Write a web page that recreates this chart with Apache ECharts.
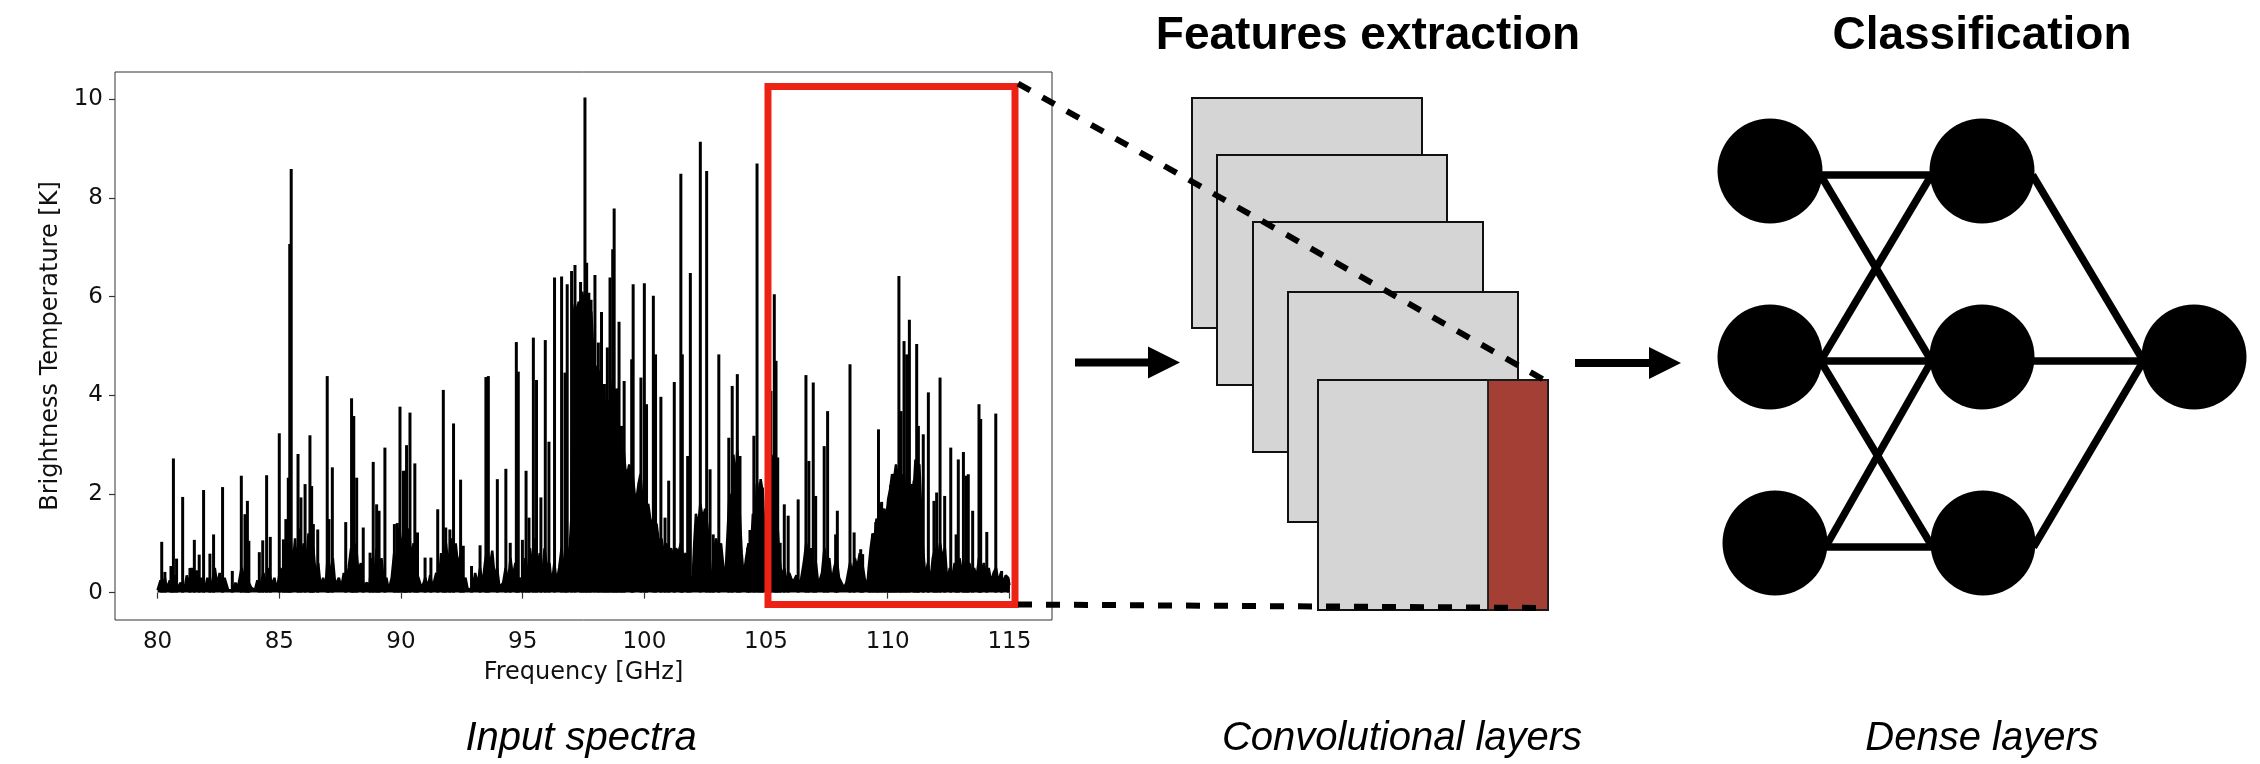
<!DOCTYPE html>
<html>
<head>
<meta charset="utf-8">
<script src="https://cdn.jsdelivr.net/npm/echarts@6/dist/echarts.min.js"></script>
<style>
  html, body { margin: 0; padding: 0; background: #fff; }
  #chart { width: 2260px; height: 764px; }
</style>
</head>
<body>
<div id="chart"></div>
<script>
// ---- Spectrum: individual emission lines (GHz, K) ----
const peakFreq = [
  80.17, 80.30, 80.55, 80.65, 80.78, 81.03, 81.33, 81.51, 81.71, 81.89,
  82.15, 82.30, 82.67, 83.07, 83.44, 83.59, 83.69, 83.75, 84.18, 84.32,
  84.48, 84.63, 85.00, 85.17, 85.27, 85.37, 85.43, 85.49, 85.77, 85.89,
  86.06, 86.26, 86.33, 86.40, 86.58, 86.97, 87.04, 87.18, 87.73, 87.97,
  88.06, 88.18, 88.45, 88.73, 88.86, 89.00, 89.10, 89.34, 89.73, 89.85,
  89.96, 90.10, 90.17, 90.23, 90.37, 90.57, 90.68, 90.99, 91.23, 91.51,
  91.74, 91.84, 92.01, 92.16, 92.45, 92.56, 92.90, 93.25, 93.49, 93.59,
  93.96, 94.31, 94.49, 94.74, 94.82, 94.99, 95.14, 95.26, 95.44, 95.57,
  95.75, 95.93, 96.08, 96.31, 96.60, 96.74, 96.83, 97.01, 97.15, 97.38,
  97.46, 97.56, 97.63, 97.72, 97.81, 97.97, 98.11, 98.24, 98.36, 98.48,
  98.59, 98.70, 98.76, 98.86, 98.96, 99.06, 99.17, 99.48, 99.54, 99.86,
  100.00, 100.09, 100.37, 100.46, 100.68, 100.85, 101.00, 101.23, 101.50, 101.56,
  101.78, 101.89, 102.30, 102.56, 102.70, 102.83, 103.06, 103.47, 103.61, 103.82,
  103.93, 104.24, 104.34, 104.50, 104.63, 104.75, 104.85, 105.20, 105.34, 105.41,
  105.48, 105.58, 105.75, 105.91, 106.32, 106.64, 106.76, 106.94, 107.04, 107.39,
  107.53, 107.86, 107.93, 108.45, 108.62, 108.89, 108.97, 109.25, 109.38, 109.51,
  109.62, 109.75, 109.89, 110.03, 110.12, 110.23, 110.34, 110.46, 110.55, 110.67,
  110.78, 110.89, 111.08, 111.19, 111.26, 111.46, 111.67, 111.90, 112.01, 112.15,
  112.34, 112.59, 112.81, 112.90, 113.11, 113.22, 113.31, 113.49, 113.75, 113.82,
  114.07, 114.44, 114.68, 114.96
];
const peakTemp = [
  1.03, 0.42, 0.54, 2.72, 0.69, 1.94, 0.50, 1.07, 0.77, 2.08,
  0.79, 1.18, 2.14, 0.44, 2.37, 1.59, 1.86, 1.05, 0.82, 1.06,
  2.38, 1.13, 3.23, 1.08, 1.49, 2.33, 7.07, 8.59, 2.81, 1.93,
  2.20, 3.19, 2.16, 1.39, 1.28, 4.39, 1.49, 2.54, 1.43, 3.94,
  3.58, 2.33, 1.32, 0.81, 2.65, 1.79, 1.66, 2.94, 1.39, 1.41,
  3.77, 2.47, 2.47, 2.99, 3.65, 2.62, 1.22, 0.71, 0.71, 1.69,
  4.11, 1.32, 1.28, 3.43, 2.29, 0.95, 0.54, 0.96, 4.37, 4.39,
  2.30, 2.51, 1.01, 5.08, 4.48, 1.07, 2.47, 1.52, 5.17, 4.31,
  1.93, 5.12, 3.06, 6.39, 6.41, 4.46, 6.25, 6.52, 6.64, 6.30,
  6.04, 10.04, 6.69, 6.08, 5.94, 6.44, 5.07, 5.69, 4.23, 4.97,
  6.39, 6.96, 7.79, 4.14, 5.49, 3.38, 4.29, 4.73, 6.25, 4.36,
  6.27, 3.82, 6.02, 4.83, 3.97, 1.52, 2.27, 4.27, 8.49, 4.83,
  2.77, 6.48, 9.14, 8.55, 2.50, 1.18, 4.83, 3.14, 4.19, 4.43,
  2.77, 0.91, 1.27, 3.18, 8.70, 2.23, 2.13, 4.09, 6.05, 4.70,
  2.74, 1.01, 1.79, 1.56, 1.89, 4.41, 2.67, 4.26, 1.96, 2.97,
  3.68, 1.18, 1.66, 4.63, 1.22, 0.88, 0.78, 0.47, 1.18, 1.43,
  3.31, 1.84, 1.64, 1.66, 2.18, 2.27, 2.40, 6.42, 3.68, 5.10,
  4.83, 5.53, 2.27, 5.04, 3.38, 3.21, 4.06, 1.86, 2.03, 4.36,
  1.96, 2.94, 1.18, 2.70, 2.85, 2.37, 2.40, 1.66, 3.82, 3.52,
  1.23, 3.63, 0.44, 0.27
];

// ---- Spectrum: crowded weak-line forest, [GHz, K] along its ragged upper edge ----
const forest = [
  [80.00, 0.05], [80.12, 0.25], [80.20, 0.05], [80.30, 0.30], [80.38, 0.08], [80.50, 0.25], [80.60, 0.10], [80.72, 0.35],
  [80.80, 0.08], [80.95, 0.20], [81.10, 0.05], [81.20, 0.35], [81.28, 0.15], [81.40, 0.50], [81.48, 0.20], [81.60, 0.45],
  [81.70, 0.15], [81.80, 0.30], [81.95, 0.08], [82.05, 0.30], [82.20, 0.10], [82.35, 0.50], [82.45, 0.15], [82.55, 0.40],
  [82.65, 0.10], [82.75, 0.30], [82.90, 0.05], [83.10, 0.05], [83.20, 0.20], [83.30, 0.10], [83.45, 0.50], [83.55, 0.20],
  [83.65, 0.90], [83.75, 0.20], [83.85, 0.10], [84.00, 0.05], [84.10, 0.25], [84.20, 0.08], [84.35, 0.40], [84.45, 0.15],
  [84.55, 0.50], [84.70, 0.15], [84.80, 0.30], [84.90, 0.05], [85.05, 0.50], [85.15, 0.20], [85.25, 1.00], [85.35, 0.60],
  [85.45, 1.20], [85.55, 0.50], [85.65, 1.10], [85.72, 0.40], [85.82, 1.30], [85.92, 0.60], [86.00, 1.00], [86.10, 0.50],
  [86.20, 1.20], [86.30, 0.60], [86.40, 0.90], [86.50, 0.30], [86.60, 0.60], [86.70, 0.10], [86.80, 0.30], [86.90, 0.10],
  [87.00, 0.80], [87.10, 0.30], [87.20, 0.70], [87.30, 0.15], [87.45, 0.30], [87.55, 0.10], [87.65, 0.40], [87.75, 0.15],
  [87.85, 0.50], [87.95, 0.90], [88.05, 0.50], [88.15, 1.00], [88.25, 0.40], [88.35, 0.60], [88.45, 0.15], [88.60, 0.20],
  [88.70, 0.10], [88.80, 0.70], [88.90, 0.30], [89.00, 0.90], [89.10, 0.40], [89.20, 0.70], [89.30, 0.20], [89.40, 0.30],
  [89.50, 0.05], [89.62, 0.30], [89.72, 0.80], [89.82, 0.50], [89.92, 1.30], [90.02, 0.80], [90.12, 1.40], [90.22, 0.90],
  [90.32, 1.30], [90.42, 0.70], [90.52, 1.00], [90.62, 0.40], [90.72, 0.30], [90.85, 0.08], [91.00, 0.30], [91.10, 0.10],
  [91.20, 0.35], [91.30, 0.10], [91.45, 0.40], [91.55, 0.15], [91.65, 0.80], [91.75, 0.40], [91.85, 1.00], [91.95, 0.50],
  [92.05, 1.10], [92.15, 0.60], [92.25, 1.00], [92.35, 0.50], [92.45, 0.80], [92.55, 0.20], [92.65, 0.30], [92.75, 0.05],
  [92.95, 0.10], [93.05, 0.40], [93.15, 0.15], [93.25, 0.50], [93.35, 0.15], [93.45, 0.60], [93.55, 0.90], [93.65, 0.50],
  [93.75, 0.85], [93.85, 0.30], [93.95, 0.50], [94.05, 0.10], [94.20, 0.20], [94.30, 0.50], [94.40, 0.20], [94.50, 0.70],
  [94.60, 0.30], [94.70, 0.60], [94.80, 0.20], [94.90, 0.30], [95.00, 0.10], [95.10, 0.70], [95.20, 0.30], [95.30, 0.90],
  [95.40, 0.50], [95.50, 1.10], [95.60, 0.40], [95.70, 0.80], [95.80, 0.30], [95.90, 0.90], [96.00, 0.50], [96.10, 0.60],
  [96.20, 0.15], [96.30, 0.60], [96.40, 0.20], [96.50, 0.50], [96.60, 0.90], [96.70, 0.40], [96.80, 1.00], [96.90, 0.60],
  [97.00, 1.50], [97.05, 4.00], [97.08, 5.60], [97.15, 5.85], [97.22, 5.60], [97.30, 5.90], [97.38, 5.70], [97.45, 6.10],
  [97.52, 5.80], [97.60, 6.20], [97.68, 5.90], [97.75, 5.60], [97.82, 5.70], [97.90, 4.90], [97.95, 4.40], [98.02, 4.60],
  [98.10, 4.10], [98.18, 4.50], [98.25, 3.90], [98.32, 4.20], [98.40, 3.60], [98.48, 3.40], [98.55, 3.90], [98.62, 3.60],
  [98.70, 4.30], [98.78, 3.80], [98.85, 4.10], [98.92, 3.20], [99.00, 3.00], [99.08, 2.70], [99.15, 2.90], [99.22, 2.50],
  [99.30, 2.40], [99.38, 2.60], [99.45, 2.30], [99.52, 2.40], [99.60, 2.00], [99.68, 1.90], [99.76, 2.20], [99.84, 2.40],
  [99.92, 1.90], [100.00, 2.00], [100.08, 1.70], [100.16, 1.80], [100.24, 1.50], [100.32, 1.50], [100.40, 1.30], [100.50, 1.40],
  [100.60, 1.00], [100.70, 1.10], [100.80, 0.80], [100.90, 1.00], [101.00, 0.80], [101.10, 0.90], [101.20, 0.70], [101.30, 0.90],
  [101.40, 0.80], [101.50, 1.00], [101.60, 0.70], [101.70, 0.80], [101.80, 0.50], [101.90, 0.30], [101.97, 0.10], [102.05, 1.00],
  [102.12, 1.60], [102.20, 1.30], [102.30, 1.80], [102.40, 1.50], [102.50, 1.70], [102.60, 1.30], [102.68, 0.50], [102.75, 0.15],
  [102.85, 0.80], [102.95, 1.10], [103.05, 0.80], [103.15, 1.00], [103.25, 0.50], [103.33, 0.30], [103.42, 1.20], [103.50, 2.00],
  [103.58, 1.60], [103.66, 2.80], [103.74, 2.20], [103.82, 2.90], [103.90, 1.80], [104.00, 0.80], [104.08, 0.30], [104.18, 0.70],
  [104.28, 1.00], [104.38, 0.80], [104.46, 1.60], [104.55, 1.30], [104.62, 2.20], [104.70, 1.90], [104.78, 2.30], [104.87, 2.00],
  [104.95, 1.00], [105.05, 0.30], [105.15, 2.00], [105.22, 2.80], [105.30, 2.40], [105.38, 2.70], [105.47, 1.40], [105.55, 0.70],
  [105.65, 0.30], [105.75, 0.50], [105.85, 0.20], [105.95, 0.40], [106.10, 0.20], [106.25, 0.35], [106.40, 0.15], [106.55, 0.60],
  [106.65, 1.00], [106.75, 0.60], [106.85, 0.90], [106.95, 0.40], [107.05, 0.60], [107.15, 0.15], [107.30, 0.40], [107.40, 0.90],
  [107.50, 0.50], [107.60, 0.70], [107.70, 0.20], [107.80, 0.50], [107.90, 0.70], [108.00, 0.30], [108.10, 0.20], [108.20, 0.10],
  [108.30, 0.20], [108.45, 0.60], [108.55, 0.40], [108.65, 0.70], [108.75, 0.50], [108.85, 0.80], [108.95, 0.60], [109.05, 0.30],
  [109.15, 0.07], [109.22, 0.50], [109.30, 0.90], [109.38, 1.20], [109.46, 1.10], [109.54, 1.50], [109.62, 1.40], [109.70, 1.80],
  [109.78, 1.60], [109.86, 1.70], [109.94, 1.50], [110.02, 1.90], [110.10, 2.10], [110.18, 2.40], [110.26, 2.30], [110.34, 2.60],
  [110.42, 2.30], [110.50, 2.60], [110.58, 2.20], [110.66, 2.40], [110.74, 2.00], [110.82, 2.10], [110.90, 1.90], [110.98, 2.20],
  [111.06, 2.00], [111.14, 2.70], [111.22, 2.50], [111.30, 2.60], [111.38, 1.60], [111.45, 0.90], [111.55, 0.30], [111.65, 0.60],
  [111.75, 0.20], [111.85, 0.70], [111.95, 0.90], [112.05, 0.60], [112.15, 1.00], [112.25, 0.70], [112.35, 0.90], [112.45, 0.20],
  [112.55, 0.50], [112.65, 0.30], [112.75, 0.60], [112.85, 0.40], [112.95, 0.70], [113.05, 0.40], [113.15, 0.60], [113.25, 0.30],
  [113.35, 0.60], [113.45, 0.40], [113.55, 0.50], [113.65, 0.30], [113.75, 0.70], [113.85, 0.40], [113.95, 0.60], [114.05, 0.30],
  [114.15, 0.50], [114.25, 0.20], [114.35, 0.40], [114.45, 0.50], [114.55, 0.20], [114.65, 0.40], [114.75, 0.20], [114.85, 0.35],
  [114.95, 0.30], [115.00, 0.15]
];

// ---- Axes ----
const freqTicks = [80, 85, 90, 95, 100, 105, 110, 115];
const tempTicks = [0, 2, 4, 6, 8, 10];
const freqRange = [78.25, 116.75];
const tempRange = [-0.555, 10.555];

// Highlighted spectral window passed on to the network: [fMin, fMax, tMin, tMax]
const windowBox = [105.08, 115.23, -0.24, 10.26];

// ---- Text ----
const stageTitles = ['Features extraction', 'Classification'];
const stageCaptions = ['Input spectra', 'Convolutional layers', 'Dense layers'];
const axisNames = ['Frequency [GHz]', 'Brightness Temperature [K]'];

const chart = echarts.init(document.getElementById('chart'), null, { renderer: 'canvas' });

const plotFont = 'DejaVu Sans';
const diagFont = '"Liberation Sans", Arial, Helvetica, sans-serif';

const option = {
  animation: false,
  backgroundColor: '#ffffff',
  grid: {
    left: 115, top: 72, width: 937, height: 548,
    show: true, borderColor: '#333', borderWidth: 1, backgroundColor: 'transparent'
  },
  xAxis: {
    type: 'value', min: freqRange[0], max: freqRange[1],
    axisLine: { show: false },
    splitLine: { show: false },
    axisTick: { show: true, inside: false, length: 6, customValues: freqTicks, lineStyle: { color: '#333', width: 1.2 } },
    axisLabel: { customValues: freqTicks, margin: 11, fontFamily: plotFont, fontSize: 23, color: '#111' },
    name: axisNames[0], nameLocation: 'middle', nameGap: 41,
    nameTextStyle: { fontFamily: plotFont, fontSize: 24, color: '#111' }
  },
  yAxis: {
    type: 'value', min: tempRange[0], max: tempRange[1],
    axisLine: { show: false },
    splitLine: { show: false },
    axisTick: { show: true, inside: false, length: 6, customValues: tempTicks, lineStyle: { color: '#333', width: 1.2 } },
    axisLabel: { customValues: tempTicks, margin: 12, fontFamily: plotFont, fontSize: 23, color: '#111' },
    name: axisNames[1], nameLocation: 'middle', nameGap: 52, nameRotate: 90,
    nameTextStyle: { fontFamily: plotFont, fontSize: 24, color: '#111' }
  },
  series: [
    {
      name: 'forest', type: 'line', silent: true, z: 2,
      data: forest,
      symbol: 'none',
      lineStyle: { color: '#000', width: 2.5 },
      areaStyle: { color: '#000', opacity: 1 }
    },
    {
      name: 'lines', type: 'bar', silent: true, z: 3,
      data: peakFreq.map((f, i) => [f, peakTemp[i]]),
      barWidth: 3,
      itemStyle: { color: '#000' }
    },
    {
      name: 'window', type: 'custom', silent: true, z: 6, clip: false,
      data: [windowBox],
      encode: { x: [0, 1], y: [2, 3] },
      renderItem: function (params, api) {
        const p0 = api.coord([api.value(0), api.value(3)]);
        const p1 = api.coord([api.value(1), api.value(2)]);
        return {
          type: 'rect',
          shape: { x: p0[0], y: p0[1], width: p1[0] - p0[0], height: p1[1] - p0[1] },
          style: { fill: 'none', stroke: '#ec2314', lineWidth: 7 }
        };
      }
    }
  ]
};

chart.setOption(option);

// ---- Diagram: convolutional stack, arrows, dense network ----
const g = [];

// stacked feature maps
const maps = [[1192, 98], [1217, 155], [1253, 222], [1288, 292], [1318, 380]];
maps.forEach((m, i) => {
  g.push({ type: 'rect', z: 10 + i, shape: { x: m[0], y: m[1], width: 230, height: 230 },
    style: { fill: '#d5d5d5', stroke: '#111', lineWidth: 2 } });
});
// highlighted strip on the front map
g.push({ type: 'rect', z: 16, shape: { x: 1488, y: 380, width: 60, height: 230 },
  style: { fill: '#a43f35', stroke: '#1a1a1a', lineWidth: 1.8 } });

// arrows
function arrow(x0, x1, y) {
  g.push({ type: 'rect', z: 20, shape: { x: x0, y: y - 4, width: x1 - x0 - 30, height: 8 }, style: { fill: '#000' } });
  g.push({ type: 'polygon', z: 20, shape: { points: [[x1 - 32, y - 16], [x1, y], [x1 - 32, y + 16]] }, style: { fill: '#000' } });
}
arrow(1075, 1180, 362.5);
arrow(1575, 1681, 363);

// dense network: each hidden unit links to its neighbours in the previous layer
const layers = [
  [[1770, 171], [1770, 357], [1775, 543]],
  [[1982, 171], [1982, 357], [1983, 543]],
  [[2194, 357]]
];
const r = 52.5;
const linkDrop = 4;
function link(a, b) {
  g.push({ type: 'line', z: 30,
    shape: { x1: a[0] + r - 2, y1: a[1] + linkDrop, x2: b[0] - r + 2, y2: b[1] + linkDrop },
    style: { stroke: '#000', lineWidth: 7.5 } });
}
layers[0].forEach((a, i) => {
  layers[1].forEach((b, j) => { if (Math.abs(i - j) <= 1) link(a, b); });
});
layers[1].forEach(a => layers[2].forEach(b => link(a, b)));
layers.forEach(layer => layer.forEach(c => {
  g.push({ type: 'circle', z: 31, shape: { cx: c[0], cy: c[1], r: r }, style: { fill: '#000' } });
}));

// headings and captions
const titleX = [1368, 1982];
stageTitles.forEach((t, i) => {
  g.push({ type: 'text', z: 40, style: { text: t, x: titleX[i], y: 36, align: 'center', verticalAlign: 'middle',
    font: 'bold 46px ' + diagFont, fill: '#000' } });
});
const captionX = [581, 1402, 1982];
stageCaptions.forEach((t, i) => {
  g.push({ type: 'text', z: 40, style: { text: t, x: captionX[i], y: 739, align: 'center', verticalAlign: 'middle',
    font: 'italic 40px ' + diagFont, fill: '#000' } });
});

// dashed guides from the highlighted window to the front feature map
const cTop = chart.convertToPixel({ gridIndex: 0 }, [windowBox[1], windowBox[3]]);
const cBot = chart.convertToPixel({ gridIndex: 0 }, [windowBox[1], windowBox[2]]);
g.push({ type: 'line', z: 50, shape: { x1: cTop[0] + 3, y1: cTop[1] - 3, x2: 1546, y2: 381 },
  style: { stroke: '#000', lineWidth: 6, lineDash: [14, 14] } });
g.push({ type: 'line', z: 50, shape: { x1: cBot[0] + 3, y1: cBot[1], x2: 1546, y2: 608 },
  style: { stroke: '#000', lineWidth: 6, lineDash: [14, 14] } });

chart.setOption({ graphic: { elements: g } });
</script>
</body>
</html>
